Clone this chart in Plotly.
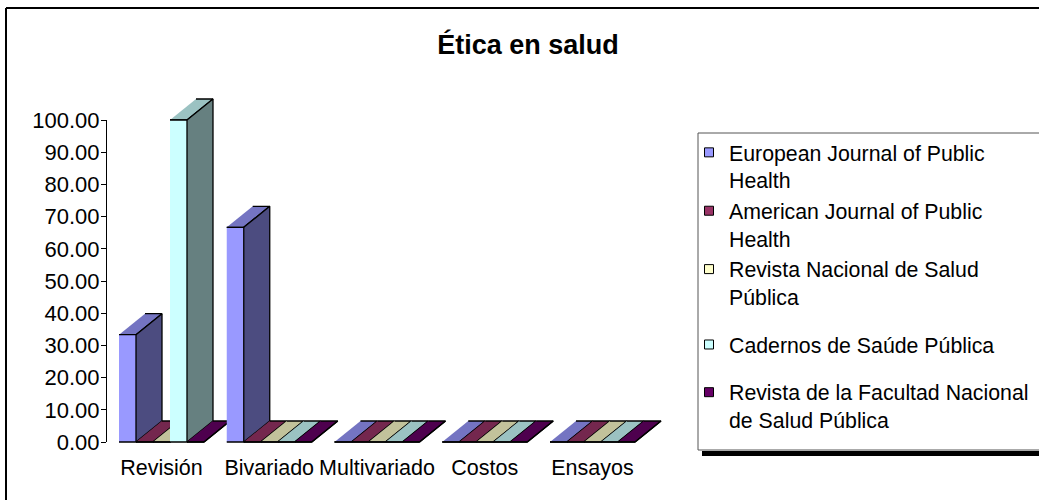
import plotly.graph_objects as go

# ---- data -----------------------------------------------------------------
categories = ["Revisión", "Bivariado", "Multivariado", "Costos", "Ensayos"]

european_journal = [33.33, 66.67, 0.0, 0.0, 0.0]
american_journal = [0.0, 0.0, 0.0, 0.0, 0.0]
revista_nacional = [0.0, 0.0, 0.0, 0.0, 0.0]
cadernos = [100.0, 0.0, 0.0, 0.0, 0.0]
revista_facultad = [0.0, 0.0, 0.0, 0.0, 0.0]

series_labels = [
    "European Journal of Public<br>Health",
    "American Journal of Public<br>Health",
    "Revista Nacional de Salud<br>Pública",
    "Cadernos de Saúde Pública",
    "Revista de la Facultad Nacional<br>de Salud Pública",
]
y_tick_values = [0, 10, 20, 30, 40, 50, 60, 70, 80, 90, 100]

series_values = [european_journal, american_journal, revista_nacional,
                 cadernos, revista_facultad]
series_colors = ["#9999FF", "#993366", "#FFFFCC", "#CCFFFF", "#660066"]
legend_groups = ["a", "a", "a", "b", "c"]

# ---- page geometry (pixels) ----------------------------------------------
FIG_W, FIG_H = 1039, 500
PLOT_L, PLOT_R, PLOT_T, PLOT_B = 107, 690, 80, 452
ZERO_PX = 442          # pixel row of value 0
PX_PER_UNIT = 3.22     # pixels per value unit
CAT0_PX = 161.5        # pixel column of first category centre
CAT_STEP = 107.75      # pixels between category centres
SLOT_PX = 17           # width of one column face
DEPTH_DX, DEPTH_DY = 26, 21  # oblique depth offset of the 3-D columns

x_range = [(PLOT_L - CAT0_PX) / CAT_STEP, (PLOT_R - CAT0_PX) / CAT_STEP]
y_range = [(ZERO_PX - PLOT_B) / PX_PER_UNIT, (ZERO_PX - PLOT_T) / PX_PER_UNIT]

slot = SLOT_PX / CAT_STEP
ddx = DEPTH_DX / CAT_STEP
ddy = DEPTH_DY / PX_PER_UNIT
n_series = len(series_values)


def px_x(px):
    return (px - PLOT_L) / (PLOT_R - PLOT_L)


def px_y(py):
    return (PLOT_B - py) / (PLOT_B - PLOT_T)


def page_line(xa, ya, xb, yb, color, width):
    """Straight decoration line given in page pixels."""
    return dict(type="line", xref="paper", yref="paper",
                x0=px_x(xa), y0=px_y(ya), x1=px_x(xb), y1=px_y(yb),
                line=dict(color=color, width=width))


def shade(hex_color, f):
    h = hex_color.lstrip("#")
    r, g, b = (int(h[i:i + 2], 16) for i in (0, 2, 4))
    return "#%02x%02x%02x" % (round(r * f), round(g * f), round(b * f))


fig = go.Figure()

edge = dict(color="black", width=1.3)

# 3-D columns, drawn back-to-front (left to right) so nearer faces overlap
for ci in range(len(categories)):
    for si in range(n_series):
        v = series_values[si][ci]
        col = series_colors[si]
        x0 = ci - n_series * slot / 2 + si * slot
        x1 = x0 + slot
        faces = [
            # top
            ([x0, x1, x1 + ddx, x0 + ddx], [v, v, v + ddy, v + ddy], shade(col, 0.76)),
            # side
            ([x1, x1 + ddx, x1 + ddx, x1], [0, ddy, v + ddy, v], shade(col, 0.5)),
            # front
            ([x0, x1, x1, x0], [0, 0, v, v], col),
        ]
        for fx, fy, fc in faces:
            fig.add_trace(go.Scatter(
                x=fx, y=fy, mode="lines", fill="toself", fillcolor=fc,
                line=edge, showlegend=False, hoverinfo="skip",
            ))

# legend entries
for si in range(n_series):
    fig.add_trace(go.Scatter(
        x=[None], y=[None], mode="markers", name=series_labels[si],
        legendgroup=legend_groups[si],
        marker=dict(symbol="square", size=9, color=series_colors[si],
                    line=dict(color="black", width=1)),
        hoverinfo="skip",
    ))

# carrier for the value axis
fig.add_trace(go.Scatter(x=[None], y=[None], yaxis="y2", showlegend=False,
                         hoverinfo="skip"))

font_family = "Liberation Sans, Arial, sans-serif"

fig.update_layout(
    width=FIG_W, height=FIG_H,
    margin=dict(l=PLOT_L, r=FIG_W - PLOT_R, t=PLOT_T, b=FIG_H - PLOT_B,
                autoexpand=False),
    paper_bgcolor="white", plot_bgcolor="rgba(0,0,0,0)",
    font=dict(family=font_family, size=21, color="black"),
    title=dict(
        text="Ética en salud", xref="container", yref="container",
        x=528 / FIG_W, y=1 - 45 / FIG_H, xanchor="center", yanchor="middle",
        font=dict(family=font_family, size=27, color="black", weight="bold"),
    ),
    xaxis=dict(
        range=x_range, tickmode="array",
        tickvals=list(range(len(categories))), ticktext=categories,
        showgrid=False, zeroline=False, showline=False, ticks="",
        tickfont=dict(size=21.5), fixedrange=True,
    ),
    yaxis=dict(range=y_range, visible=False, fixedrange=True),
    yaxis2=dict(
        anchor="x", range=[0, 100],
        domain=[px_y(ZERO_PX), px_y(ZERO_PX - 100 * PX_PER_UNIT)],
        tickmode="array", tickvals=y_tick_values, tickformat=".2f",
        ticks="outside", ticklen=5, tickcolor="black",
        showline=True, linecolor="black", linewidth=1,
        showgrid=False, zeroline=False, tickfont=dict(size=22),
        ticklabelstandoff=-3, fixedrange=True,
    ),
    legend=dict(
        x=px_x(689), y=px_y(132), xanchor="left", yanchor="top",
        bgcolor="rgba(255,255,255,0)", borderwidth=0,
        font=dict(family=font_family, size=21.3, color="black"),
        valign="top", traceorder="grouped", tracegroupgap=17,
    ),
    showlegend=True,
    shapes=[
        # chart frame (right and bottom sides lie off the page)
        page_line(6, 8, 1100, 8, "black", 2),
        page_line(6, 8, 6, 560, "black", 2),
        # legend box (open to the right)
        page_line(698, 133, 1100, 133, "#555555", 1),
        page_line(698, 133, 698, 450, "#555555", 1),
        page_line(698, 450, 1100, 450, "#555555", 1),
        # legend shadow
        dict(type="rect", xref="paper", yref="paper",
             x0=px_x(702), x1=px_x(1100), y0=px_y(451), y1=px_y(456),
             line=dict(width=0), fillcolor="black"),
    ],
)

fig.write_html("out.html")
